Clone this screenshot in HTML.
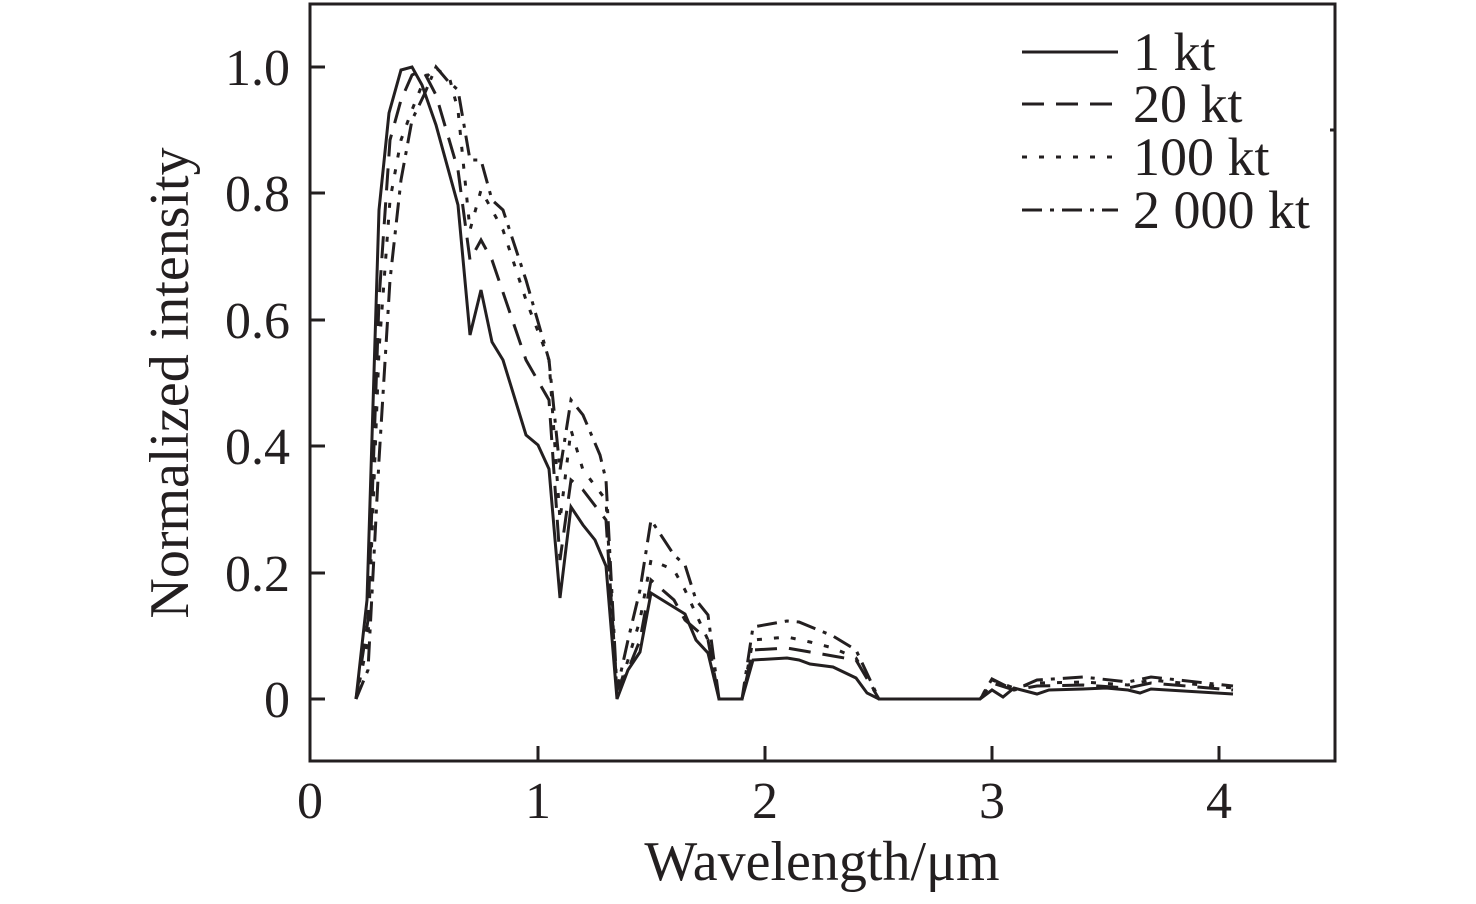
<!DOCTYPE html>
<html><head><style>
html,body{margin:0;padding:0;background:#fff;}
svg{display:block;}
text{font-family:"Liberation Serif",serif;fill:#231f20;}
</style></head><body>
<svg width="1476" height="904" viewBox="0 0 1476 904" xmlns="http://www.w3.org/2000/svg">
<g stroke="#231f20" stroke-width="3" fill="none">
<rect x="310" y="4" width="1025" height="757"/>
<line x1="310" y1="67" x2="325" y2="67"/>
<line x1="310" y1="193" x2="325" y2="193"/>
<line x1="310" y1="320" x2="325" y2="320"/>
<line x1="310" y1="446" x2="325" y2="446"/>
<line x1="310" y1="573" x2="325" y2="573"/>
<line x1="310" y1="699" x2="325" y2="699"/>
<line x1="1335" y1="130" x2="1330" y2="130"/>
<line x1="538" y1="761" x2="538" y2="746"/>
<line x1="765" y1="761" x2="765" y2="746"/>
<line x1="992" y1="761" x2="992" y2="746"/>
<line x1="1219" y1="761" x2="1219" y2="746"/>
</g>
<g stroke="#231f20" stroke-width="3" fill="none" stroke-linejoin="miter">
<polyline points="356,699 367,600 379,210 389,113 401,70 412,67 422,85 436,125 458,205 470,335 481,290 492,342 503,360 526,435 538,445 549,469 560,598 571,507 583,525 595,540 606,566 617,699 628,670 640,652 651,593 685,614 696,640 708,653 719,699 742,699 753,660 787,658 799,660 810,664 833,667 856,678 867,693 879,699 980,699 992,690 1003,697 1014,688 1037,694 1049,690 1083,689 1106,688 1128,690 1140,693 1151,689 1233,694"/>
<polyline stroke-dasharray="22,12" points="356,699 368,620 379,300 390,140 401,100 412,75 423,70 436,95 458,170 470,260 481,240 492,260 526,360 549,400 560,560 571,480 583,490 606,520 617,690 628,670 640,640 651,580 674,600 685,620 708,640 719,699 742,699 753,650 787,648 810,652 833,656 856,660 879,699 980,699 992,683 1014,690 1037,686 1083,685 1128,688 1151,683 1233,690"/>
<polyline stroke-dasharray="5,12" points="356,699 368,640 379,350 390,200 401,140 412,110 424,80 435,67 450,80 458,110 470,230 481,190 492,210 503,230 526,300 549,360 560,520 571,430 583,470 606,500 617,695 628,660 640,620 651,560 674,570 685,590 708,640 719,699 742,699 753,640 787,637 810,642 833,648 856,658 879,699 980,699 992,680 1014,688 1037,683 1083,682 1128,685 1151,680 1233,688"/>
<polyline stroke-dasharray="20,8,4,8" points="356,699 368,670 379,460 390,280 401,180 412,120 424,95 436,67 447,80 458,90 470,160 481,160 492,200 503,210 526,280 549,360 560,470 571,400 583,415 600,455 606,480 617,690 628,640 640,590 651,520 674,555 685,565 696,600 708,615 719,699 742,699 753,627 787,621 799,622 833,636 856,650 879,699 980,699 992,679 1014,690 1037,680 1083,677 1128,682 1151,677 1233,686"/>
<line x1="1022" y1="52" x2="1118" y2="52"/>
<line x1="1022" y1="104" x2="1118" y2="104" stroke-dasharray="22,12"/>
<line x1="1022" y1="157" x2="1118" y2="157" stroke-dasharray="5,12"/>
<line x1="1022" y1="210" x2="1118" y2="210" stroke-dasharray="20,8,4,8"/>
</g>
<g font-size="54">
<text x="1133" y="70">1 kt</text>
<text x="1133" y="122">20 kt</text>
<text x="1133" y="175">100 kt</text>
<text x="1133" y="228">2 000 kt</text>
</g>
<g font-size="52" text-anchor="end">
<text x="290" y="85">1.0</text>
<text x="290" y="211">0.8</text>
<text x="290" y="338">0.6</text>
<text x="290" y="464">0.4</text>
<text x="290" y="591">0.2</text>
<text x="290" y="717">0</text>
</g>
<g font-size="52" text-anchor="middle">
<text x="310" y="818">0</text>
<text x="538" y="818">1</text>
<text x="765" y="818">2</text>
<text x="992" y="818">3</text>
<text x="1219" y="818">4</text>
</g>
<g font-size="56" text-anchor="middle">
<text x="822" y="880">Wavelength/μm</text>
<text transform="translate(188,383) rotate(-90)">Normalized intensity</text>
</g>
</svg>
</body></html>
